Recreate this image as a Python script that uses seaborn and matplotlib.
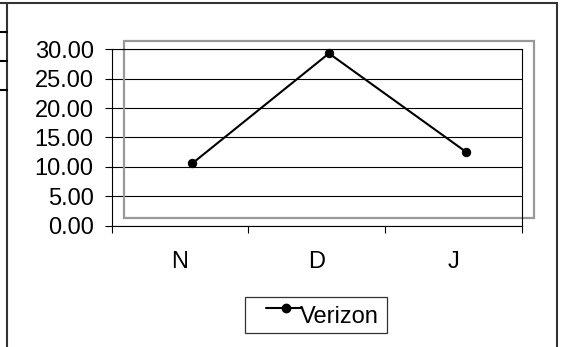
import numpy as np
import pandas as pd
import matplotlib
matplotlib.use("Agg")
import matplotlib.pyplot as plt
import matplotlib.transforms as mtransforms
from matplotlib.patches import Rectangle
from matplotlib.lines import Line2D
import seaborn as sns

# data
months = ["N", "D", "J"]
verizon = [10.6, 29.3, 12.6]
yticks = [0, 5, 10, 15, 20, 25, 30]
series_name = "Verizon"

df = pd.DataFrame({"month": months, "value": verizon})

sns.set_theme(style="white")
plt.rcParams["font.family"] = ["Liberation Sans", "DejaVu Sans"]
plt.rcParams["text.color"] = "black"
plt.rcParams["xtick.color"] = "black"
plt.rcParams["ytick.color"] = "black"

W, H = 567, 347
fig = plt.figure(figsize=(W / 100, H / 100), dpi=100)
ax = fig.add_axes([0.197, 0.3496, 0.723, 0.5084])

sns.lineplot(data=df, x="month", y="value", sort=False, marker="o",
             color="black", linewidth=1.5, markersize=6,
             markeredgecolor="black", ax=ax)

# Excel draws the series shifted a bit to the right
shift = mtransforms.offset_copy(ax.transData, fig=fig, x=12.3, y=0, units="dots")
for ln in ax.lines:
    ln.set_transform(shift)
    ln.set_clip_on(False)

ax.set_xlim(-0.5, len(months) - 0.5)
ax.set_ylim(0, 30)
ax.set_yticks(yticks)
ax.set_yticklabels([f"{v:.2f}" for v in yticks], fontsize=17)
ax.set_xticks(range(len(months)))
ax.set_xticklabels(months, fontsize=17)
ax.set_xticks(np.arange(-0.5, len(months), 1.0), minor=True)
ax.tick_params(axis="x", which="major", length=0, pad=18)
ax.tick_params(axis="x", which="minor", length=5, width=0.8, direction="out", bottom=True)
ax.tick_params(axis="y", which="major", length=5, width=0.8, direction="out", pad=8, left=True)
ax.set_xlabel("")
ax.set_ylabel("")

ax.yaxis.grid(True, color="black", linewidth=0.8)
ax.xaxis.grid(False)
for s in ax.spines.values():
    s.set_color("black")
    s.set_linewidth(0.8)
    s.set_visible(True)

# grey plot-area border, offset
rect_tr = mtransforms.offset_copy(ax.transAxes, fig=fig, x=12.3, y=8, units="dots")
ax.add_patch(Rectangle((0, 0), 1, 1, transform=rect_tr, fill=False,
                       edgecolor="#999999", linewidth=1.6, clip_on=False, zorder=1))

# legend box drawn the Excel way
px = lambda x: x / W
py = lambda y: 1 - y / H
fig.add_artist(Rectangle((px(245), py(333)), px(387) - px(245), py(297) - py(333),
                         transform=fig.transFigure, fill=False,
                         edgecolor="#333333", linewidth=0.9))
fig.add_artist(Line2D([px(266), px(302)], [py(308.3), py(308.3)], color="black", lw=1.5,
                      transform=fig.transFigure))
fig.add_artist(Line2D([px(286)], [py(308.3)], color="black", marker="o", markersize=6,
                      linestyle="none", transform=fig.transFigure))
fig.text(px(300), py(317), series_name, fontsize=17, ha="left", va="center")

# outer chart frame
fc = "#333333"
fig.add_artist(Line2D([px(7), px(7)], [0, py(2.7)], color=fc, lw=1.5, transform=fig.transFigure))
fig.add_artist(Line2D([0, px(557)], [py(2.7), py(2.7)], color=fc, lw=1.5, transform=fig.transFigure))
fig.add_artist(Line2D([px(557), px(557)], [0, py(2.7)], color=fc, lw=1.5, transform=fig.transFigure))
for yy in [32.3, 61, 90]:
    fig.add_artist(Line2D([0, px(7)], [py(yy), py(yy)], color="black", lw=1.5,
                          transform=fig.transFigure))

fig.savefig("out.png", dpi=100)
